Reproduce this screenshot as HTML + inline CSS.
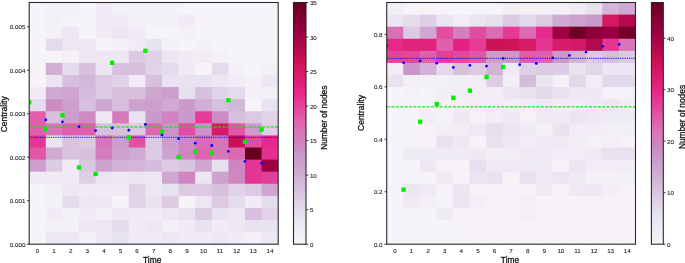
<!DOCTYPE html>
<html><head><meta charset="utf-8"><title>Centrality heatmaps</title>
<style>
html,body{margin:0;padding:0;background:#ffffff;}
body{width:685px;height:263px;overflow:hidden;font-family:"Liberation Sans",sans-serif;}
svg{display:block;position:absolute;left:0;top:0;will-change:transform;}
svg text{font-family:"Liberation Sans",sans-serif;}
</style></head><body>
<svg width="685" height="263" viewBox="0 0 685 263">
<rect x="0" y="0" width="685" height="263" fill="#ffffff"/>
<clipPath id="cl"><rect x="29.2" y="2.5" width="249.00" height="241.70"/></clipPath>
<g clip-path="url(#cl)">
<rect x="29.20" y="2.50" width="17.30" height="12.78" fill="#f7f4f9"/>
<rect x="45.80" y="2.50" width="17.30" height="12.78" fill="#f3f0f7"/>
<rect x="62.40" y="2.50" width="17.30" height="12.78" fill="#f3f0f7"/>
<rect x="79.00" y="2.50" width="17.30" height="12.78" fill="#f7f4f9"/>
<rect x="95.60" y="2.50" width="17.30" height="12.78" fill="#f0ebf4"/>
<rect x="112.20" y="2.50" width="17.30" height="12.78" fill="#f3f0f7"/>
<rect x="128.80" y="2.50" width="17.30" height="12.78" fill="#f3f0f7"/>
<rect x="145.40" y="2.50" width="17.30" height="12.78" fill="#f3f0f7"/>
<rect x="162.00" y="2.50" width="17.30" height="12.78" fill="#f3f0f7"/>
<rect x="178.60" y="2.50" width="17.30" height="12.78" fill="#f7f4f9"/>
<rect x="195.20" y="2.50" width="17.30" height="12.78" fill="#f7f4f9"/>
<rect x="211.80" y="2.50" width="17.30" height="12.78" fill="#f7f4f9"/>
<rect x="228.40" y="2.50" width="17.30" height="12.78" fill="#f7f4f9"/>
<rect x="245.00" y="2.50" width="17.30" height="12.78" fill="#f7f4f9"/>
<rect x="261.60" y="2.50" width="17.30" height="12.78" fill="#f7f4f9"/>
<rect x="29.20" y="14.58" width="17.30" height="12.78" fill="#f7f4f9"/>
<rect x="45.80" y="14.58" width="17.30" height="12.78" fill="#f3f0f7"/>
<rect x="62.40" y="14.58" width="17.30" height="12.78" fill="#f7f4f9"/>
<rect x="79.00" y="14.58" width="17.30" height="12.78" fill="#f7f4f9"/>
<rect x="95.60" y="14.58" width="17.30" height="12.78" fill="#f0ebf4"/>
<rect x="112.20" y="14.58" width="17.30" height="12.78" fill="#f0ebf4"/>
<rect x="128.80" y="14.58" width="17.30" height="12.78" fill="#f3f0f7"/>
<rect x="145.40" y="14.58" width="17.30" height="12.78" fill="#f3f0f7"/>
<rect x="162.00" y="14.58" width="17.30" height="12.78" fill="#f3f0f7"/>
<rect x="178.60" y="14.58" width="17.30" height="12.78" fill="#f0ebf4"/>
<rect x="195.20" y="14.58" width="17.30" height="12.78" fill="#f7f4f9"/>
<rect x="211.80" y="14.58" width="17.30" height="12.78" fill="#f7f4f9"/>
<rect x="228.40" y="14.58" width="17.30" height="12.78" fill="#f7f4f9"/>
<rect x="245.00" y="14.58" width="17.30" height="12.78" fill="#f7f4f9"/>
<rect x="261.60" y="14.58" width="17.30" height="12.78" fill="#f7f4f9"/>
<rect x="29.20" y="26.67" width="17.30" height="12.78" fill="#f7f4f9"/>
<rect x="45.80" y="26.67" width="17.30" height="12.78" fill="#f3f0f7"/>
<rect x="62.40" y="26.67" width="17.30" height="12.78" fill="#ece7f2"/>
<rect x="79.00" y="26.67" width="17.30" height="12.78" fill="#f7f4f9"/>
<rect x="95.60" y="26.67" width="17.30" height="12.78" fill="#f0ebf4"/>
<rect x="112.20" y="26.67" width="17.30" height="12.78" fill="#ece7f2"/>
<rect x="128.80" y="26.67" width="17.30" height="12.78" fill="#f0ebf4"/>
<rect x="145.40" y="26.67" width="17.30" height="12.78" fill="#f7f4f9"/>
<rect x="162.00" y="26.67" width="17.30" height="12.78" fill="#f7f4f9"/>
<rect x="178.60" y="26.67" width="17.30" height="12.78" fill="#f3f0f7"/>
<rect x="195.20" y="26.67" width="17.30" height="12.78" fill="#f7f4f9"/>
<rect x="211.80" y="26.67" width="17.30" height="12.78" fill="#f7f4f9"/>
<rect x="228.40" y="26.67" width="17.30" height="12.78" fill="#f7f4f9"/>
<rect x="245.00" y="26.67" width="17.30" height="12.78" fill="#f7f4f9"/>
<rect x="261.60" y="26.67" width="17.30" height="12.78" fill="#f7f4f9"/>
<rect x="29.20" y="38.75" width="17.30" height="12.78" fill="#f7f4f9"/>
<rect x="45.80" y="38.75" width="17.30" height="12.78" fill="#e4dbec"/>
<rect x="62.40" y="38.75" width="17.30" height="12.78" fill="#ece7f2"/>
<rect x="79.00" y="38.75" width="17.30" height="12.78" fill="#ece7f2"/>
<rect x="95.60" y="38.75" width="17.30" height="12.78" fill="#f7f4f9"/>
<rect x="112.20" y="38.75" width="17.30" height="12.78" fill="#f3f0f7"/>
<rect x="128.80" y="38.75" width="17.30" height="12.78" fill="#f0ebf4"/>
<rect x="145.40" y="38.75" width="17.30" height="12.78" fill="#e8e3f0"/>
<rect x="162.00" y="38.75" width="17.30" height="12.78" fill="#f3f0f7"/>
<rect x="178.60" y="38.75" width="17.30" height="12.78" fill="#f7f4f9"/>
<rect x="195.20" y="38.75" width="17.30" height="12.78" fill="#f3f0f7"/>
<rect x="211.80" y="38.75" width="17.30" height="12.78" fill="#f7f4f9"/>
<rect x="228.40" y="38.75" width="17.30" height="12.78" fill="#f7f4f9"/>
<rect x="245.00" y="38.75" width="17.30" height="12.78" fill="#f7f4f9"/>
<rect x="261.60" y="38.75" width="17.30" height="12.78" fill="#f7f4f9"/>
<rect x="29.20" y="50.84" width="17.30" height="12.78" fill="#f7f4f9"/>
<rect x="45.80" y="50.84" width="17.30" height="12.78" fill="#f7f4f9"/>
<rect x="62.40" y="50.84" width="17.30" height="12.78" fill="#f3f0f7"/>
<rect x="79.00" y="50.84" width="17.30" height="12.78" fill="#ece7f2"/>
<rect x="95.60" y="50.84" width="17.30" height="12.78" fill="#ece7f2"/>
<rect x="112.20" y="50.84" width="17.30" height="12.78" fill="#ece7f2"/>
<rect x="128.80" y="50.84" width="17.30" height="12.78" fill="#dcc9e2"/>
<rect x="145.40" y="50.84" width="17.30" height="12.78" fill="#e0d2e7"/>
<rect x="162.00" y="50.84" width="17.30" height="12.78" fill="#ece7f2"/>
<rect x="178.60" y="50.84" width="17.30" height="12.78" fill="#f0ebf4"/>
<rect x="195.20" y="50.84" width="17.30" height="12.78" fill="#f0ebf4"/>
<rect x="211.80" y="50.84" width="17.30" height="12.78" fill="#f3f0f7"/>
<rect x="228.40" y="50.84" width="17.30" height="12.78" fill="#f7f4f9"/>
<rect x="245.00" y="50.84" width="17.30" height="12.78" fill="#f7f4f9"/>
<rect x="261.60" y="50.84" width="17.30" height="12.78" fill="#f7f4f9"/>
<rect x="29.20" y="62.92" width="17.30" height="12.78" fill="#f7f4f9"/>
<rect x="45.80" y="62.92" width="17.30" height="12.78" fill="#d1aed5"/>
<rect x="62.40" y="62.92" width="17.30" height="12.78" fill="#e4dbec"/>
<rect x="79.00" y="62.92" width="17.30" height="12.78" fill="#d7c0de"/>
<rect x="95.60" y="62.92" width="17.30" height="12.78" fill="#eae5f1"/>
<rect x="112.20" y="62.92" width="17.30" height="12.78" fill="#d7c0de"/>
<rect x="128.80" y="62.92" width="17.30" height="12.78" fill="#d7c0de"/>
<rect x="145.40" y="62.92" width="17.30" height="12.78" fill="#e0d2e7"/>
<rect x="162.00" y="62.92" width="17.30" height="12.78" fill="#e4dbec"/>
<rect x="178.60" y="62.92" width="17.30" height="12.78" fill="#f0ebf4"/>
<rect x="195.20" y="62.92" width="17.30" height="12.78" fill="#f7f4f9"/>
<rect x="211.80" y="62.92" width="17.30" height="12.78" fill="#e4dbec"/>
<rect x="228.40" y="62.92" width="17.30" height="12.78" fill="#f3f0f7"/>
<rect x="245.00" y="62.92" width="17.30" height="12.78" fill="#f7f4f9"/>
<rect x="261.60" y="62.92" width="17.30" height="12.78" fill="#f3f0f7"/>
<rect x="29.20" y="75.01" width="17.30" height="12.78" fill="#f7f4f9"/>
<rect x="45.80" y="75.01" width="17.30" height="12.78" fill="#eae5f1"/>
<rect x="62.40" y="75.01" width="17.30" height="12.78" fill="#d7c0de"/>
<rect x="79.00" y="75.01" width="17.30" height="12.78" fill="#d3b7d9"/>
<rect x="95.60" y="75.01" width="17.30" height="12.78" fill="#dcc9e2"/>
<rect x="112.20" y="75.01" width="17.30" height="12.78" fill="#e0d2e7"/>
<rect x="128.80" y="75.01" width="17.30" height="12.78" fill="#f0ebf4"/>
<rect x="145.40" y="75.01" width="17.30" height="12.78" fill="#d7c0de"/>
<rect x="162.00" y="75.01" width="17.30" height="12.78" fill="#e8e3f0"/>
<rect x="178.60" y="75.01" width="17.30" height="12.78" fill="#e8e3f0"/>
<rect x="195.20" y="75.01" width="17.30" height="12.78" fill="#e8e3f0"/>
<rect x="211.80" y="75.01" width="17.30" height="12.78" fill="#ece7f2"/>
<rect x="228.40" y="75.01" width="17.30" height="12.78" fill="#f0ebf4"/>
<rect x="245.00" y="75.01" width="17.30" height="12.78" fill="#f3f0f7"/>
<rect x="261.60" y="75.01" width="17.30" height="12.78" fill="#ece7f2"/>
<rect x="29.20" y="87.09" width="17.30" height="12.78" fill="#f0ebf4"/>
<rect x="45.80" y="87.09" width="17.30" height="12.78" fill="#d0aad2"/>
<rect x="62.40" y="87.09" width="17.30" height="12.78" fill="#cea6d0"/>
<rect x="79.00" y="87.09" width="17.30" height="12.78" fill="#d6bcdc"/>
<rect x="95.60" y="87.09" width="17.30" height="12.78" fill="#dcc9e2"/>
<rect x="112.20" y="87.09" width="17.30" height="12.78" fill="#d7c0de"/>
<rect x="128.80" y="87.09" width="17.30" height="12.78" fill="#d7c0de"/>
<rect x="145.40" y="87.09" width="17.30" height="12.78" fill="#cea6d0"/>
<rect x="162.00" y="87.09" width="17.30" height="12.78" fill="#cc9ecc"/>
<rect x="178.60" y="87.09" width="17.30" height="12.78" fill="#e6e0ee"/>
<rect x="195.20" y="87.09" width="17.30" height="12.78" fill="#d7c0de"/>
<rect x="211.80" y="87.09" width="17.30" height="12.78" fill="#e0d2e7"/>
<rect x="228.40" y="87.09" width="17.30" height="12.78" fill="#e4dbec"/>
<rect x="245.00" y="87.09" width="17.30" height="12.78" fill="#f3f0f7"/>
<rect x="261.60" y="87.09" width="17.30" height="12.78" fill="#f3f0f7"/>
<rect x="29.20" y="99.18" width="17.30" height="12.78" fill="#e4dbec"/>
<rect x="45.80" y="99.18" width="17.30" height="12.78" fill="#cd8bc2"/>
<rect x="62.40" y="99.18" width="17.30" height="12.78" fill="#cc9ecc"/>
<rect x="79.00" y="99.18" width="17.30" height="12.78" fill="#d7c0de"/>
<rect x="95.60" y="99.18" width="17.30" height="12.78" fill="#cea6d0"/>
<rect x="112.20" y="99.18" width="17.30" height="12.78" fill="#d7c0de"/>
<rect x="128.80" y="99.18" width="17.30" height="12.78" fill="#cda2ce"/>
<rect x="145.40" y="99.18" width="17.30" height="12.78" fill="#cc9ecc"/>
<rect x="162.00" y="99.18" width="17.30" height="12.78" fill="#d0aad2"/>
<rect x="178.60" y="99.18" width="17.30" height="12.78" fill="#cb99ca"/>
<rect x="195.20" y="99.18" width="17.30" height="12.78" fill="#d1aed5"/>
<rect x="211.80" y="99.18" width="17.30" height="12.78" fill="#d7c0de"/>
<rect x="228.40" y="99.18" width="17.30" height="12.78" fill="#d3b7d9"/>
<rect x="245.00" y="99.18" width="17.30" height="12.78" fill="#f7f4f9"/>
<rect x="261.60" y="99.18" width="17.30" height="12.78" fill="#e8e3f0"/>
<rect x="29.20" y="111.26" width="17.30" height="12.78" fill="#e05eac"/>
<rect x="45.80" y="111.26" width="17.30" height="12.78" fill="#d7c0de"/>
<rect x="62.40" y="111.26" width="17.30" height="12.78" fill="#cc9ecc"/>
<rect x="79.00" y="111.26" width="17.30" height="12.78" fill="#cd8bc2"/>
<rect x="95.60" y="111.26" width="17.30" height="12.78" fill="#ece7f2"/>
<rect x="112.20" y="111.26" width="17.30" height="12.78" fill="#d57abb"/>
<rect x="128.80" y="111.26" width="17.30" height="12.78" fill="#e8e3f0"/>
<rect x="145.40" y="111.26" width="17.30" height="12.78" fill="#cb99ca"/>
<rect x="162.00" y="111.26" width="17.30" height="12.78" fill="#d085c0"/>
<rect x="178.60" y="111.26" width="17.30" height="12.78" fill="#cb99ca"/>
<rect x="195.20" y="111.26" width="17.30" height="12.78" fill="#e43c96"/>
<rect x="211.80" y="111.26" width="17.30" height="12.78" fill="#cd8bc2"/>
<rect x="228.40" y="111.26" width="17.30" height="12.78" fill="#d7c0de"/>
<rect x="245.00" y="111.26" width="17.30" height="12.78" fill="#dcc9e2"/>
<rect x="261.60" y="111.26" width="17.30" height="12.78" fill="#e0d2e7"/>
<rect x="29.20" y="123.35" width="17.30" height="12.78" fill="#e05eac"/>
<rect x="45.80" y="123.35" width="17.30" height="12.78" fill="#d775b8"/>
<rect x="62.40" y="123.35" width="17.30" height="12.78" fill="#e05eac"/>
<rect x="79.00" y="123.35" width="17.30" height="12.78" fill="#e05eac"/>
<rect x="95.60" y="123.35" width="17.30" height="12.78" fill="#d7c0de"/>
<rect x="112.20" y="123.35" width="17.30" height="12.78" fill="#d7c0de"/>
<rect x="128.80" y="123.35" width="17.30" height="12.78" fill="#dcc9e2"/>
<rect x="145.40" y="123.35" width="17.30" height="12.78" fill="#de67b1"/>
<rect x="162.00" y="123.35" width="17.30" height="12.78" fill="#c995c8"/>
<rect x="178.60" y="123.35" width="17.30" height="12.78" fill="#e24ca0"/>
<rect x="195.20" y="123.35" width="17.30" height="12.78" fill="#c995c8"/>
<rect x="211.80" y="123.35" width="17.30" height="12.78" fill="#d51965"/>
<rect x="228.40" y="123.35" width="17.30" height="12.78" fill="#e156a6"/>
<rect x="245.00" y="123.35" width="17.30" height="12.78" fill="#cb9ccb"/>
<rect x="261.60" y="123.35" width="17.30" height="12.78" fill="#dfcfe6"/>
<rect x="29.20" y="135.44" width="17.30" height="12.78" fill="#e53592"/>
<rect x="45.80" y="135.44" width="17.30" height="12.78" fill="#eae5f1"/>
<rect x="62.40" y="135.44" width="17.30" height="12.78" fill="#d9c3df"/>
<rect x="79.00" y="135.44" width="17.30" height="12.78" fill="#dcc9e2"/>
<rect x="95.60" y="135.44" width="17.30" height="12.78" fill="#d775b8"/>
<rect x="112.20" y="135.44" width="17.30" height="12.78" fill="#cc9ecc"/>
<rect x="128.80" y="135.44" width="17.30" height="12.78" fill="#e250a3"/>
<rect x="145.40" y="135.44" width="17.30" height="12.78" fill="#dccbe3"/>
<rect x="162.00" y="135.44" width="17.30" height="12.78" fill="#cc9ecc"/>
<rect x="178.60" y="135.44" width="17.30" height="12.78" fill="#cf87c1"/>
<rect x="195.20" y="135.44" width="17.30" height="12.78" fill="#dc6ab3"/>
<rect x="211.80" y="135.44" width="17.30" height="12.78" fill="#d775b8"/>
<rect x="228.40" y="135.44" width="17.30" height="12.78" fill="#cb1155"/>
<rect x="245.00" y="135.44" width="17.30" height="12.78" fill="#e24ca0"/>
<rect x="261.60" y="135.44" width="17.30" height="12.78" fill="#e62889"/>
<rect x="29.20" y="147.52" width="17.30" height="12.78" fill="#e157a7"/>
<rect x="45.80" y="147.52" width="17.30" height="12.78" fill="#d0aad2"/>
<rect x="62.40" y="147.52" width="17.30" height="12.78" fill="#d9c3df"/>
<rect x="79.00" y="147.52" width="17.30" height="12.78" fill="#d7c0de"/>
<rect x="95.60" y="147.52" width="17.30" height="12.78" fill="#d47cbb"/>
<rect x="112.20" y="147.52" width="17.30" height="12.78" fill="#cda2ce"/>
<rect x="128.80" y="147.52" width="17.30" height="12.78" fill="#d0aad2"/>
<rect x="145.40" y="147.52" width="17.30" height="12.78" fill="#dccbe3"/>
<rect x="162.00" y="147.52" width="17.30" height="12.78" fill="#cda2ce"/>
<rect x="178.60" y="147.52" width="17.30" height="12.78" fill="#cf86c0"/>
<rect x="195.20" y="147.52" width="17.30" height="12.78" fill="#df64af"/>
<rect x="211.80" y="147.52" width="17.30" height="12.78" fill="#d677b9"/>
<rect x="228.40" y="147.52" width="17.30" height="12.78" fill="#dd68b2"/>
<rect x="245.00" y="147.52" width="17.30" height="12.78" fill="#67001f"/>
<rect x="261.60" y="147.52" width="17.30" height="12.78" fill="#e6308e"/>
<rect x="29.20" y="159.60" width="17.30" height="12.78" fill="#cc9ecc"/>
<rect x="45.80" y="159.60" width="17.30" height="12.78" fill="#ddcde4"/>
<rect x="62.40" y="159.60" width="17.30" height="12.78" fill="#f0ebf4"/>
<rect x="79.00" y="159.60" width="17.30" height="12.78" fill="#dbc7e1"/>
<rect x="95.60" y="159.60" width="17.30" height="12.78" fill="#cda2ce"/>
<rect x="112.20" y="159.60" width="17.30" height="12.78" fill="#d2b3d7"/>
<rect x="128.80" y="159.60" width="17.30" height="12.78" fill="#d3b5d8"/>
<rect x="145.40" y="159.60" width="17.30" height="12.78" fill="#d6bcdc"/>
<rect x="162.00" y="159.60" width="17.30" height="12.78" fill="#dccbe3"/>
<rect x="178.60" y="159.60" width="17.30" height="12.78" fill="#d9c3df"/>
<rect x="195.20" y="159.60" width="17.30" height="12.78" fill="#cea6d0"/>
<rect x="211.80" y="159.60" width="17.30" height="12.78" fill="#e6dfee"/>
<rect x="228.40" y="159.60" width="17.30" height="12.78" fill="#cf86c0"/>
<rect x="245.00" y="159.60" width="17.30" height="12.78" fill="#e53592"/>
<rect x="261.60" y="159.60" width="17.30" height="12.78" fill="#9b0144"/>
<rect x="29.20" y="171.69" width="17.30" height="12.78" fill="#f0ebf4"/>
<rect x="45.80" y="171.69" width="17.30" height="12.78" fill="#f0ebf4"/>
<rect x="62.40" y="171.69" width="17.30" height="12.78" fill="#f0ebf4"/>
<rect x="79.00" y="171.69" width="17.30" height="12.78" fill="#dfcfe6"/>
<rect x="95.60" y="171.69" width="17.30" height="12.78" fill="#eae5f1"/>
<rect x="112.20" y="171.69" width="17.30" height="12.78" fill="#ece7f2"/>
<rect x="128.80" y="171.69" width="17.30" height="12.78" fill="#eae5f1"/>
<rect x="145.40" y="171.69" width="17.30" height="12.78" fill="#ece7f2"/>
<rect x="162.00" y="171.69" width="17.30" height="12.78" fill="#cea6d0"/>
<rect x="178.60" y="171.69" width="17.30" height="12.78" fill="#d085c0"/>
<rect x="195.20" y="171.69" width="17.30" height="12.78" fill="#ece7f2"/>
<rect x="211.80" y="171.69" width="17.30" height="12.78" fill="#cda2ce"/>
<rect x="228.40" y="171.69" width="17.30" height="12.78" fill="#cf87c1"/>
<rect x="245.00" y="171.69" width="17.30" height="12.78" fill="#e53592"/>
<rect x="261.60" y="171.69" width="17.30" height="12.78" fill="#e43f98"/>
<rect x="29.20" y="183.77" width="17.30" height="12.78" fill="#f7f4f9"/>
<rect x="45.80" y="183.77" width="17.30" height="12.78" fill="#f3f0f7"/>
<rect x="62.40" y="183.77" width="17.30" height="12.78" fill="#ece7f2"/>
<rect x="79.00" y="183.77" width="17.30" height="12.78" fill="#f0ebf4"/>
<rect x="95.60" y="183.77" width="17.30" height="12.78" fill="#f0ebf4"/>
<rect x="112.20" y="183.77" width="17.30" height="12.78" fill="#f0ebf4"/>
<rect x="128.80" y="183.77" width="17.30" height="12.78" fill="#e0d2e7"/>
<rect x="145.40" y="183.77" width="17.30" height="12.78" fill="#ece7f2"/>
<rect x="162.00" y="183.77" width="17.30" height="12.78" fill="#e8e3f0"/>
<rect x="178.60" y="183.77" width="17.30" height="12.78" fill="#dcc9e2"/>
<rect x="195.20" y="183.77" width="17.30" height="12.78" fill="#dcc9e2"/>
<rect x="211.80" y="183.77" width="17.30" height="12.78" fill="#d7c0de"/>
<rect x="228.40" y="183.77" width="17.30" height="12.78" fill="#e0d2e7"/>
<rect x="245.00" y="183.77" width="17.30" height="12.78" fill="#dcc9e2"/>
<rect x="261.60" y="183.77" width="17.30" height="12.78" fill="#cea6d0"/>
<rect x="29.20" y="195.86" width="17.30" height="12.78" fill="#f7f4f9"/>
<rect x="45.80" y="195.86" width="17.30" height="12.78" fill="#f3f0f7"/>
<rect x="62.40" y="195.86" width="17.30" height="12.78" fill="#e4dbec"/>
<rect x="79.00" y="195.86" width="17.30" height="12.78" fill="#ece7f2"/>
<rect x="95.60" y="195.86" width="17.30" height="12.78" fill="#ece7f2"/>
<rect x="112.20" y="195.86" width="17.30" height="12.78" fill="#f7f4f9"/>
<rect x="128.80" y="195.86" width="17.30" height="12.78" fill="#e0d2e7"/>
<rect x="145.40" y="195.86" width="17.30" height="12.78" fill="#e8e3f0"/>
<rect x="162.00" y="195.86" width="17.30" height="12.78" fill="#dcc9e2"/>
<rect x="178.60" y="195.86" width="17.30" height="12.78" fill="#f7f4f9"/>
<rect x="195.20" y="195.86" width="17.30" height="12.78" fill="#ece7f2"/>
<rect x="211.80" y="195.86" width="17.30" height="12.78" fill="#dcc9e2"/>
<rect x="228.40" y="195.86" width="17.30" height="12.78" fill="#e4dbec"/>
<rect x="245.00" y="195.86" width="17.30" height="12.78" fill="#f0ebf4"/>
<rect x="261.60" y="195.86" width="17.30" height="12.78" fill="#e4dbec"/>
<rect x="29.20" y="207.94" width="17.30" height="12.78" fill="#f7f4f9"/>
<rect x="45.80" y="207.94" width="17.30" height="12.78" fill="#f0ebf4"/>
<rect x="62.40" y="207.94" width="17.30" height="12.78" fill="#f3f0f7"/>
<rect x="79.00" y="207.94" width="17.30" height="12.78" fill="#f0ebf4"/>
<rect x="95.60" y="207.94" width="17.30" height="12.78" fill="#f3f0f7"/>
<rect x="112.20" y="207.94" width="17.30" height="12.78" fill="#ece7f2"/>
<rect x="128.80" y="207.94" width="17.30" height="12.78" fill="#f0ebf4"/>
<rect x="145.40" y="207.94" width="17.30" height="12.78" fill="#f0ebf4"/>
<rect x="162.00" y="207.94" width="17.30" height="12.78" fill="#ece7f2"/>
<rect x="178.60" y="207.94" width="17.30" height="12.78" fill="#e8e3f0"/>
<rect x="195.20" y="207.94" width="17.30" height="12.78" fill="#dcc9e2"/>
<rect x="211.80" y="207.94" width="17.30" height="12.78" fill="#e8e3f0"/>
<rect x="228.40" y="207.94" width="17.30" height="12.78" fill="#ece7f2"/>
<rect x="245.00" y="207.94" width="17.30" height="12.78" fill="#d7c0de"/>
<rect x="261.60" y="207.94" width="17.30" height="12.78" fill="#e0d2e7"/>
<rect x="29.20" y="220.03" width="17.30" height="12.78" fill="#f7f4f9"/>
<rect x="45.80" y="220.03" width="17.30" height="12.78" fill="#f3f0f7"/>
<rect x="62.40" y="220.03" width="17.30" height="12.78" fill="#f3f0f7"/>
<rect x="79.00" y="220.03" width="17.30" height="12.78" fill="#ece7f2"/>
<rect x="95.60" y="220.03" width="17.30" height="12.78" fill="#ece7f2"/>
<rect x="112.20" y="220.03" width="17.30" height="12.78" fill="#e4dbec"/>
<rect x="128.80" y="220.03" width="17.30" height="12.78" fill="#f0ebf4"/>
<rect x="145.40" y="220.03" width="17.30" height="12.78" fill="#ece7f2"/>
<rect x="162.00" y="220.03" width="17.30" height="12.78" fill="#f3f0f7"/>
<rect x="178.60" y="220.03" width="17.30" height="12.78" fill="#f0ebf4"/>
<rect x="195.20" y="220.03" width="17.30" height="12.78" fill="#e8e3f0"/>
<rect x="211.80" y="220.03" width="17.30" height="12.78" fill="#f0ebf4"/>
<rect x="228.40" y="220.03" width="17.30" height="12.78" fill="#ece7f2"/>
<rect x="245.00" y="220.03" width="17.30" height="12.78" fill="#e8e3f0"/>
<rect x="261.60" y="220.03" width="17.30" height="12.78" fill="#e8e3f0"/>
<rect x="29.20" y="232.11" width="17.30" height="12.78" fill="#f7f4f9"/>
<rect x="45.80" y="232.11" width="17.30" height="12.78" fill="#ece7f2"/>
<rect x="62.40" y="232.11" width="17.30" height="12.78" fill="#ece7f2"/>
<rect x="79.00" y="232.11" width="17.30" height="12.78" fill="#f3f0f7"/>
<rect x="95.60" y="232.11" width="17.30" height="12.78" fill="#ece7f2"/>
<rect x="112.20" y="232.11" width="17.30" height="12.78" fill="#e8e3f0"/>
<rect x="128.80" y="232.11" width="17.30" height="12.78" fill="#f0ebf4"/>
<rect x="145.40" y="232.11" width="17.30" height="12.78" fill="#f0ebf4"/>
<rect x="162.00" y="232.11" width="17.30" height="12.78" fill="#ece7f2"/>
<rect x="178.60" y="232.11" width="17.30" height="12.78" fill="#f0ebf4"/>
<rect x="195.20" y="232.11" width="17.30" height="12.78" fill="#f0ebf4"/>
<rect x="211.80" y="232.11" width="17.30" height="12.78" fill="#ece7f2"/>
<rect x="228.40" y="232.11" width="17.30" height="12.78" fill="#f0ebf4"/>
<rect x="245.00" y="232.11" width="17.30" height="12.78" fill="#f3f0f7"/>
<rect x="261.60" y="232.11" width="17.30" height="12.78" fill="#ece7f2"/>
</g>
<g clip-path="url(#cl)">
<line x1="29.2" x2="278.2" y1="127.0" y2="127.0" stroke="#00ee00" stroke-opacity="0.78" stroke-width="1.4" stroke-dasharray="3.05 1.34"/>
<line x1="29.2" x2="278.2" y1="137.3" y2="137.3" stroke="#0000ff" stroke-opacity="0.85" stroke-width="1.25" stroke-dasharray="0.9 0.92"/>
<rect x="27.05" y="100.05" width="4.3" height="4.3" fill="#00ee00"/>
<rect x="43.65" y="126.95" width="4.3" height="4.3" fill="#00ee00"/>
<rect x="60.25" y="113.05" width="4.3" height="4.3" fill="#00ee00"/>
<rect x="76.85" y="165.25" width="4.3" height="4.3" fill="#00ee00"/>
<rect x="93.45" y="171.75" width="4.3" height="4.3" fill="#00ee00"/>
<rect x="110.05" y="60.65" width="4.3" height="4.3" fill="#00ee00"/>
<rect x="126.65" y="135.25" width="4.3" height="4.3" fill="#00ee00"/>
<rect x="143.25" y="48.60" width="4.3" height="4.3" fill="#00ee00"/>
<rect x="159.85" y="129.35" width="4.3" height="4.3" fill="#00ee00"/>
<rect x="176.45" y="154.95" width="4.3" height="4.3" fill="#00ee00"/>
<rect x="193.05" y="149.45" width="4.3" height="4.3" fill="#00ee00"/>
<rect x="209.65" y="150.75" width="4.3" height="4.3" fill="#00ee00"/>
<rect x="226.25" y="98.05" width="4.3" height="4.3" fill="#00ee00"/>
<rect x="242.85" y="139.75" width="4.3" height="4.3" fill="#00ee00"/>
<rect x="259.45" y="127.45" width="4.3" height="4.3" fill="#00ee00"/>
<circle cx="45.80" cy="119.90" r="1.38" fill="#0000ff"/>
<circle cx="62.40" cy="121.80" r="1.38" fill="#0000ff"/>
<circle cx="79.00" cy="126.70" r="1.38" fill="#0000ff"/>
<circle cx="95.60" cy="130.60" r="1.38" fill="#0000ff"/>
<circle cx="112.20" cy="128.00" r="1.38" fill="#0000ff"/>
<circle cx="128.80" cy="130.25" r="1.38" fill="#0000ff"/>
<circle cx="145.40" cy="124.40" r="1.38" fill="#0000ff"/>
<circle cx="162.00" cy="135.10" r="1.38" fill="#0000ff"/>
<circle cx="178.60" cy="138.70" r="1.38" fill="#0000ff"/>
<circle cx="195.20" cy="143.20" r="1.38" fill="#0000ff"/>
<circle cx="211.80" cy="145.50" r="1.38" fill="#0000ff"/>
<circle cx="228.40" cy="151.30" r="1.38" fill="#0000ff"/>
<circle cx="245.00" cy="161.30" r="1.38" fill="#0000ff"/>
<circle cx="261.60" cy="163.20" r="1.38" fill="#0000ff"/>
</g>
<rect x="29.2" y="2.5" width="249.00" height="241.70" fill="none" stroke="#2a2a2a" stroke-width="1.1"/>
<text x="37.5" y="252.9" font-size="6.25" text-anchor="middle" fill="#141414" stroke="#141414" stroke-width="0.08">0</text>
<text x="54.1" y="252.9" font-size="6.25" text-anchor="middle" fill="#141414" stroke="#141414" stroke-width="0.08">1</text>
<text x="70.7" y="252.9" font-size="6.25" text-anchor="middle" fill="#141414" stroke="#141414" stroke-width="0.08">2</text>
<text x="87.3" y="252.9" font-size="6.25" text-anchor="middle" fill="#141414" stroke="#141414" stroke-width="0.08">3</text>
<text x="103.9" y="252.9" font-size="6.25" text-anchor="middle" fill="#141414" stroke="#141414" stroke-width="0.08">4</text>
<text x="120.5" y="252.9" font-size="6.25" text-anchor="middle" fill="#141414" stroke="#141414" stroke-width="0.08">5</text>
<text x="137.1" y="252.9" font-size="6.25" text-anchor="middle" fill="#141414" stroke="#141414" stroke-width="0.08">6</text>
<text x="153.7" y="252.9" font-size="6.25" text-anchor="middle" fill="#141414" stroke="#141414" stroke-width="0.08">7</text>
<text x="170.3" y="252.9" font-size="6.25" text-anchor="middle" fill="#141414" stroke="#141414" stroke-width="0.08">8</text>
<text x="186.9" y="252.9" font-size="6.25" text-anchor="middle" fill="#141414" stroke="#141414" stroke-width="0.08">9</text>
<text x="203.5" y="252.9" font-size="6.25" text-anchor="middle" fill="#141414" stroke="#141414" stroke-width="0.08">10</text>
<text x="220.1" y="252.9" font-size="6.25" text-anchor="middle" fill="#141414" stroke="#141414" stroke-width="0.08">11</text>
<text x="236.7" y="252.9" font-size="6.25" text-anchor="middle" fill="#141414" stroke="#141414" stroke-width="0.08">12</text>
<text x="253.3" y="252.9" font-size="6.25" text-anchor="middle" fill="#141414" stroke="#141414" stroke-width="0.08">13</text>
<text x="269.9" y="252.9" font-size="6.25" text-anchor="middle" fill="#141414" stroke="#141414" stroke-width="0.08">14</text>
<line x1="27.0" x2="29.2" y1="244.20" y2="244.20" stroke="#222" stroke-width="0.9"/>
<text x="25.4" y="246.8" font-size="6.25" text-anchor="end" fill="#141414" stroke="#141414" stroke-width="0.08">0.000</text>
<line x1="27.0" x2="29.2" y1="200.70" y2="200.70" stroke="#222" stroke-width="0.9"/>
<text x="25.4" y="203.3" font-size="6.25" text-anchor="end" fill="#141414" stroke="#141414" stroke-width="0.08">0.001</text>
<line x1="27.0" x2="29.2" y1="157.20" y2="157.20" stroke="#222" stroke-width="0.9"/>
<text x="25.4" y="159.8" font-size="6.25" text-anchor="end" fill="#141414" stroke="#141414" stroke-width="0.08">0.002</text>
<line x1="27.0" x2="29.2" y1="113.70" y2="113.70" stroke="#222" stroke-width="0.9"/>
<text x="25.4" y="116.3" font-size="6.25" text-anchor="end" fill="#141414" stroke="#141414" stroke-width="0.08">0.003</text>
<line x1="27.0" x2="29.2" y1="70.20" y2="70.20" stroke="#222" stroke-width="0.9"/>
<text x="25.4" y="72.8" font-size="6.25" text-anchor="end" fill="#141414" stroke="#141414" stroke-width="0.08">0.004</text>
<line x1="27.0" x2="29.2" y1="26.70" y2="26.70" stroke="#222" stroke-width="0.9"/>
<text x="25.4" y="29.3" font-size="6.25" text-anchor="end" fill="#141414" stroke="#141414" stroke-width="0.08">0.005</text>
<text x="152.2" y="263.4" font-size="8.3" text-anchor="middle" fill="#141414" stroke="#141414" stroke-width="0.3" textLength="18.3" lengthAdjust="spacingAndGlyphs">Time</text>
<text x="6.9" y="114.3" font-size="8.3" text-anchor="middle" fill="#141414" stroke="#141414" stroke-width="0.3" transform="rotate(-90 6.9 114.3)" textLength="36.0" lengthAdjust="spacingAndGlyphs">Centrality</text>
<linearGradient id="gl" x1="0" y1="0" x2="0" y2="1"><stop offset="0.0000" stop-color="#67001f"/><stop offset="0.0312" stop-color="#730028"/><stop offset="0.0625" stop-color="#800031"/><stop offset="0.0938" stop-color="#8c003a"/><stop offset="0.1250" stop-color="#980043"/><stop offset="0.1562" stop-color="#a60448"/><stop offset="0.1875" stop-color="#b3094c"/><stop offset="0.2188" stop-color="#c00e51"/><stop offset="0.2500" stop-color="#ce1256"/><stop offset="0.2812" stop-color="#d41863"/><stop offset="0.3125" stop-color="#da1e70"/><stop offset="0.3438" stop-color="#e1237d"/><stop offset="0.3750" stop-color="#e7298a"/><stop offset="0.4062" stop-color="#e53894"/><stop offset="0.4375" stop-color="#e3479d"/><stop offset="0.4688" stop-color="#e156a6"/><stop offset="0.5000" stop-color="#df65b0"/><stop offset="0.5312" stop-color="#da71b6"/><stop offset="0.5625" stop-color="#d47cbc"/><stop offset="0.5938" stop-color="#ce88c1"/><stop offset="0.6250" stop-color="#c994c7"/><stop offset="0.6562" stop-color="#cc9dcc"/><stop offset="0.6875" stop-color="#cea6d0"/><stop offset="0.7188" stop-color="#d1b0d5"/><stop offset="0.7500" stop-color="#d4b9da"/><stop offset="0.7812" stop-color="#d9c3df"/><stop offset="0.8125" stop-color="#decde4"/><stop offset="0.8438" stop-color="#e2d7ea"/><stop offset="0.8750" stop-color="#e7e1ef"/><stop offset="0.9062" stop-color="#ebe6f2"/><stop offset="0.9375" stop-color="#efeaf4"/><stop offset="0.9688" stop-color="#f3eff6"/><stop offset="1.0000" stop-color="#f7f4f9"/></linearGradient>
<rect x="293.5" y="2.5" width="12.50" height="241.70" fill="url(#gl)" stroke="#222" stroke-width="1.05"/>
<line x1="306.0" x2="308.2" y1="244.20" y2="244.20" stroke="#222" stroke-width="0.9"/>
<text x="309.9" y="246.9" font-size="6.25" text-anchor="start" fill="#141414" stroke="#141414" stroke-width="0.08">0</text>
<line x1="306.0" x2="308.2" y1="209.67" y2="209.67" stroke="#222" stroke-width="0.9"/>
<text x="309.9" y="212.37" font-size="6.25" text-anchor="start" fill="#141414" stroke="#141414" stroke-width="0.08">5</text>
<line x1="306.0" x2="308.2" y1="175.14" y2="175.14" stroke="#222" stroke-width="0.9"/>
<text x="309.9" y="177.84" font-size="6.25" text-anchor="start" fill="#141414" stroke="#141414" stroke-width="0.08">10</text>
<line x1="306.0" x2="308.2" y1="140.61" y2="140.61" stroke="#222" stroke-width="0.9"/>
<text x="309.9" y="143.31" font-size="6.25" text-anchor="start" fill="#141414" stroke="#141414" stroke-width="0.08">15</text>
<line x1="306.0" x2="308.2" y1="106.09" y2="106.09" stroke="#222" stroke-width="0.9"/>
<text x="309.9" y="108.79" font-size="6.25" text-anchor="start" fill="#141414" stroke="#141414" stroke-width="0.08">20</text>
<line x1="306.0" x2="308.2" y1="71.56" y2="71.56" stroke="#222" stroke-width="0.9"/>
<text x="309.9" y="74.26" font-size="6.25" text-anchor="start" fill="#141414" stroke="#141414" stroke-width="0.08">25</text>
<line x1="306.0" x2="308.2" y1="37.03" y2="37.03" stroke="#222" stroke-width="0.9"/>
<text x="309.9" y="39.73" font-size="6.25" text-anchor="start" fill="#141414" stroke="#141414" stroke-width="0.08">30</text>
<line x1="306.0" x2="308.2" y1="2.50" y2="2.50" stroke="#222" stroke-width="0.9"/>
<text x="309.9" y="5.2" font-size="6.25" text-anchor="start" fill="#141414" stroke="#141414" stroke-width="0.08">35</text>
<text x="327.3" y="117.7" font-size="8.3" text-anchor="middle" fill="#141414" stroke="#141414" stroke-width="0.3" transform="rotate(-90 327.3 117.7)" textLength="64.2" lengthAdjust="spacingAndGlyphs">Number of nodes</text>
<clipPath id="cr"><rect x="386.7" y="2.5" width="248.80" height="241.70"/></clipPath>
<g clip-path="url(#cr)">
<rect x="386.70" y="2.50" width="17.29" height="12.78" fill="#f3eff7"/>
<rect x="403.29" y="2.50" width="17.29" height="12.78" fill="#f7f4f9"/>
<rect x="419.87" y="2.50" width="17.29" height="12.78" fill="#f7f4f9"/>
<rect x="436.46" y="2.50" width="17.29" height="12.78" fill="#f7f4f9"/>
<rect x="453.05" y="2.50" width="17.29" height="12.78" fill="#f7f4f9"/>
<rect x="469.63" y="2.50" width="17.29" height="12.78" fill="#f7f4f9"/>
<rect x="486.22" y="2.50" width="17.29" height="12.78" fill="#f7f4f9"/>
<rect x="502.81" y="2.50" width="17.29" height="12.78" fill="#f2eef6"/>
<rect x="519.39" y="2.50" width="17.29" height="12.78" fill="#f4f1f7"/>
<rect x="535.98" y="2.50" width="17.29" height="12.78" fill="#f4f1f7"/>
<rect x="552.57" y="2.50" width="17.29" height="12.78" fill="#f3eff7"/>
<rect x="569.15" y="2.50" width="17.29" height="12.78" fill="#efebf4"/>
<rect x="585.74" y="2.50" width="17.29" height="12.78" fill="#e8e2ef"/>
<rect x="602.33" y="2.50" width="17.29" height="12.78" fill="#d3b6d8"/>
<rect x="618.91" y="2.50" width="17.29" height="12.78" fill="#cfa7d1"/>
<rect x="386.70" y="14.58" width="17.29" height="12.78" fill="#ebe6f2"/>
<rect x="403.29" y="14.58" width="17.29" height="12.78" fill="#e5dcec"/>
<rect x="419.87" y="14.58" width="17.29" height="12.78" fill="#dfcfe6"/>
<rect x="436.46" y="14.58" width="17.29" height="12.78" fill="#eae5f1"/>
<rect x="453.05" y="14.58" width="17.29" height="12.78" fill="#f1ecf5"/>
<rect x="469.63" y="14.58" width="17.29" height="12.78" fill="#eae5f1"/>
<rect x="486.22" y="14.58" width="17.29" height="12.78" fill="#e6dfee"/>
<rect x="502.81" y="14.58" width="17.29" height="12.78" fill="#dcc9e2"/>
<rect x="519.39" y="14.58" width="17.29" height="12.78" fill="#e3d9eb"/>
<rect x="535.98" y="14.58" width="17.29" height="12.78" fill="#dcc9e2"/>
<rect x="552.57" y="14.58" width="17.29" height="12.78" fill="#d0aad2"/>
<rect x="569.15" y="14.58" width="17.29" height="12.78" fill="#cda1ce"/>
<rect x="585.74" y="14.58" width="17.29" height="12.78" fill="#ca98c9"/>
<rect x="602.33" y="14.58" width="17.29" height="12.78" fill="#d41862"/>
<rect x="618.91" y="14.58" width="17.29" height="12.78" fill="#b4094d"/>
<rect x="386.70" y="26.67" width="17.29" height="12.78" fill="#da70b6"/>
<rect x="403.29" y="26.67" width="17.29" height="12.78" fill="#dcc9e2"/>
<rect x="419.87" y="26.67" width="17.29" height="12.78" fill="#cfa7d1"/>
<rect x="436.46" y="26.67" width="17.29" height="12.78" fill="#e24da1"/>
<rect x="453.05" y="26.67" width="17.29" height="12.78" fill="#d37fbd"/>
<rect x="469.63" y="26.67" width="17.29" height="12.78" fill="#e24da1"/>
<rect x="486.22" y="26.67" width="17.29" height="12.78" fill="#db6db4"/>
<rect x="502.81" y="26.67" width="17.29" height="12.78" fill="#e53a95"/>
<rect x="519.39" y="26.67" width="17.29" height="12.78" fill="#db6db4"/>
<rect x="535.98" y="26.67" width="17.29" height="12.78" fill="#e72b8c"/>
<rect x="552.57" y="26.67" width="17.29" height="12.78" fill="#9e0245"/>
<rect x="569.15" y="26.67" width="17.29" height="12.78" fill="#6f0025"/>
<rect x="585.74" y="26.67" width="17.29" height="12.78" fill="#8e003c"/>
<rect x="602.33" y="26.67" width="17.29" height="12.78" fill="#980043"/>
<rect x="618.91" y="26.67" width="17.29" height="12.78" fill="#730028"/>
<rect x="386.70" y="38.75" width="17.29" height="12.78" fill="#e62888"/>
<rect x="403.29" y="38.75" width="17.29" height="12.78" fill="#e0237b"/>
<rect x="419.87" y="38.75" width="17.29" height="12.78" fill="#e0237b"/>
<rect x="436.46" y="38.75" width="17.29" height="12.78" fill="#e060ad"/>
<rect x="453.05" y="38.75" width="17.29" height="12.78" fill="#e22480"/>
<rect x="469.63" y="38.75" width="17.29" height="12.78" fill="#e53a95"/>
<rect x="486.22" y="38.75" width="17.29" height="12.78" fill="#ca1154"/>
<rect x="502.81" y="38.75" width="17.29" height="12.78" fill="#d0145a"/>
<rect x="519.39" y="38.75" width="17.29" height="12.78" fill="#d81b6b"/>
<rect x="535.98" y="38.75" width="17.29" height="12.78" fill="#e53592"/>
<rect x="552.57" y="38.75" width="17.29" height="12.78" fill="#d81b6b"/>
<rect x="569.15" y="38.75" width="17.29" height="12.78" fill="#d61967"/>
<rect x="585.74" y="38.75" width="17.29" height="12.78" fill="#b4094d"/>
<rect x="602.33" y="38.75" width="17.29" height="12.78" fill="#e53592"/>
<rect x="618.91" y="38.75" width="17.29" height="12.78" fill="#d874b7"/>
<rect x="386.70" y="50.84" width="17.29" height="12.78" fill="#e3439b"/>
<rect x="403.29" y="50.84" width="17.29" height="12.78" fill="#e3489e"/>
<rect x="419.87" y="50.84" width="17.29" height="12.78" fill="#e060ad"/>
<rect x="436.46" y="50.84" width="17.29" height="12.78" fill="#e43f98"/>
<rect x="453.05" y="50.84" width="17.29" height="12.78" fill="#e3489e"/>
<rect x="469.63" y="50.84" width="17.29" height="12.78" fill="#e157a7"/>
<rect x="486.22" y="50.84" width="17.29" height="12.78" fill="#cc9ecc"/>
<rect x="502.81" y="50.84" width="17.29" height="12.78" fill="#ca98c9"/>
<rect x="519.39" y="50.84" width="17.29" height="12.78" fill="#e05baa"/>
<rect x="535.98" y="50.84" width="17.29" height="12.78" fill="#e060ad"/>
<rect x="552.57" y="50.84" width="17.29" height="12.78" fill="#ca98c9"/>
<rect x="569.15" y="50.84" width="17.29" height="12.78" fill="#d2b3d7"/>
<rect x="585.74" y="50.84" width="17.29" height="12.78" fill="#dcc9e2"/>
<rect x="602.33" y="50.84" width="17.29" height="12.78" fill="#d7bfdd"/>
<rect x="618.91" y="50.84" width="17.29" height="12.78" fill="#dcc9e2"/>
<rect x="386.70" y="62.92" width="17.29" height="12.78" fill="#f1ecf5"/>
<rect x="403.29" y="62.92" width="17.29" height="12.78" fill="#c995c8"/>
<rect x="419.87" y="62.92" width="17.29" height="12.78" fill="#d2b3d7"/>
<rect x="436.46" y="62.92" width="17.29" height="12.78" fill="#e3d9eb"/>
<rect x="453.05" y="62.92" width="17.29" height="12.78" fill="#d7bfdd"/>
<rect x="469.63" y="62.92" width="17.29" height="12.78" fill="#dcc9e2"/>
<rect x="486.22" y="62.92" width="17.29" height="12.78" fill="#d2b3d7"/>
<rect x="502.81" y="62.92" width="17.29" height="12.78" fill="#ede8f3"/>
<rect x="519.39" y="62.92" width="17.29" height="12.78" fill="#dfcfe6"/>
<rect x="535.98" y="62.92" width="17.29" height="12.78" fill="#dcc9e2"/>
<rect x="552.57" y="62.92" width="17.29" height="12.78" fill="#ddcce4"/>
<rect x="569.15" y="62.92" width="17.29" height="12.78" fill="#e9e3f0"/>
<rect x="585.74" y="62.92" width="17.29" height="12.78" fill="#e2d6e9"/>
<rect x="602.33" y="62.92" width="17.29" height="12.78" fill="#ebe6f2"/>
<rect x="618.91" y="62.92" width="17.29" height="12.78" fill="#ebe6f2"/>
<rect x="386.70" y="75.01" width="17.29" height="12.78" fill="#e9e3f0"/>
<rect x="403.29" y="75.01" width="17.29" height="12.78" fill="#f3eff7"/>
<rect x="419.87" y="75.01" width="17.29" height="12.78" fill="#f3eff7"/>
<rect x="436.46" y="75.01" width="17.29" height="12.78" fill="#f3eff7"/>
<rect x="453.05" y="75.01" width="17.29" height="12.78" fill="#f2eef6"/>
<rect x="469.63" y="75.01" width="17.29" height="12.78" fill="#f1ecf5"/>
<rect x="486.22" y="75.01" width="17.29" height="12.78" fill="#ddcce4"/>
<rect x="502.81" y="75.01" width="17.29" height="12.78" fill="#f3eff7"/>
<rect x="519.39" y="75.01" width="17.29" height="12.78" fill="#d6bcdc"/>
<rect x="535.98" y="75.01" width="17.29" height="12.78" fill="#e9e3f0"/>
<rect x="552.57" y="75.01" width="17.29" height="12.78" fill="#f4f1f7"/>
<rect x="569.15" y="75.01" width="17.29" height="12.78" fill="#e3d9eb"/>
<rect x="585.74" y="75.01" width="17.29" height="12.78" fill="#f1ecf5"/>
<rect x="602.33" y="75.01" width="17.29" height="12.78" fill="#e3d9eb"/>
<rect x="618.91" y="75.01" width="17.29" height="12.78" fill="#e3d9eb"/>
<rect x="386.70" y="87.09" width="17.29" height="12.78" fill="#f7f4f9"/>
<rect x="403.29" y="87.09" width="17.29" height="12.78" fill="#f4f1f7"/>
<rect x="419.87" y="87.09" width="17.29" height="12.78" fill="#f7f4f9"/>
<rect x="436.46" y="87.09" width="17.29" height="12.78" fill="#f2eef6"/>
<rect x="453.05" y="87.09" width="17.29" height="12.78" fill="#f2eef6"/>
<rect x="469.63" y="87.09" width="17.29" height="12.78" fill="#f1ecf5"/>
<rect x="486.22" y="87.09" width="17.29" height="12.78" fill="#f2eef6"/>
<rect x="502.81" y="87.09" width="17.29" height="12.78" fill="#eae5f1"/>
<rect x="519.39" y="87.09" width="17.29" height="12.78" fill="#e9e3f0"/>
<rect x="535.98" y="87.09" width="17.29" height="12.78" fill="#e3d9eb"/>
<rect x="552.57" y="87.09" width="17.29" height="12.78" fill="#e9e3f0"/>
<rect x="569.15" y="87.09" width="17.29" height="12.78" fill="#ede8f3"/>
<rect x="585.74" y="87.09" width="17.29" height="12.78" fill="#ede8f3"/>
<rect x="602.33" y="87.09" width="17.29" height="12.78" fill="#f4f1f7"/>
<rect x="618.91" y="87.09" width="17.29" height="12.78" fill="#f4f1f7"/>
<rect x="386.70" y="99.18" width="17.29" height="12.78" fill="#f7f4f9"/>
<rect x="403.29" y="99.18" width="17.29" height="12.78" fill="#f7f4f9"/>
<rect x="419.87" y="99.18" width="17.29" height="12.78" fill="#f7f4f9"/>
<rect x="436.46" y="99.18" width="17.29" height="12.78" fill="#f4f1f7"/>
<rect x="453.05" y="99.18" width="17.29" height="12.78" fill="#f3eff7"/>
<rect x="469.63" y="99.18" width="17.29" height="12.78" fill="#f1ecf5"/>
<rect x="486.22" y="99.18" width="17.29" height="12.78" fill="#f1ecf5"/>
<rect x="502.81" y="99.18" width="17.29" height="12.78" fill="#f1ecf5"/>
<rect x="519.39" y="99.18" width="17.29" height="12.78" fill="#f1ecf5"/>
<rect x="535.98" y="99.18" width="17.29" height="12.78" fill="#ede8f3"/>
<rect x="552.57" y="99.18" width="17.29" height="12.78" fill="#f1ecf5"/>
<rect x="569.15" y="99.18" width="17.29" height="12.78" fill="#f2eef6"/>
<rect x="585.74" y="99.18" width="17.29" height="12.78" fill="#eee9f3"/>
<rect x="602.33" y="99.18" width="17.29" height="12.78" fill="#ebe6f2"/>
<rect x="618.91" y="99.18" width="17.29" height="12.78" fill="#f1ecf5"/>
<rect x="386.70" y="111.26" width="17.29" height="12.78" fill="#f7f4f9"/>
<rect x="403.29" y="111.26" width="17.29" height="12.78" fill="#f7f4f9"/>
<rect x="419.87" y="111.26" width="17.29" height="12.78" fill="#f2eef6"/>
<rect x="436.46" y="111.26" width="17.29" height="12.78" fill="#f4f1f7"/>
<rect x="453.05" y="111.26" width="17.29" height="12.78" fill="#ede8f3"/>
<rect x="469.63" y="111.26" width="17.29" height="12.78" fill="#f6f2f8"/>
<rect x="486.22" y="111.26" width="17.29" height="12.78" fill="#f1ecf5"/>
<rect x="502.81" y="111.26" width="17.29" height="12.78" fill="#ede8f3"/>
<rect x="519.39" y="111.26" width="17.29" height="12.78" fill="#f4f1f7"/>
<rect x="535.98" y="111.26" width="17.29" height="12.78" fill="#eee9f3"/>
<rect x="552.57" y="111.26" width="17.29" height="12.78" fill="#efebf4"/>
<rect x="569.15" y="111.26" width="17.29" height="12.78" fill="#eae5f1"/>
<rect x="585.74" y="111.26" width="17.29" height="12.78" fill="#ede8f3"/>
<rect x="602.33" y="111.26" width="17.29" height="12.78" fill="#efebf4"/>
<rect x="618.91" y="111.26" width="17.29" height="12.78" fill="#efebf4"/>
<rect x="386.70" y="123.35" width="17.29" height="12.78" fill="#f7f4f9"/>
<rect x="403.29" y="123.35" width="17.29" height="12.78" fill="#f7f4f9"/>
<rect x="419.87" y="123.35" width="17.29" height="12.78" fill="#f6f2f8"/>
<rect x="436.46" y="123.35" width="17.29" height="12.78" fill="#f3eff7"/>
<rect x="453.05" y="123.35" width="17.29" height="12.78" fill="#f1ecf5"/>
<rect x="469.63" y="123.35" width="17.29" height="12.78" fill="#eee9f3"/>
<rect x="486.22" y="123.35" width="17.29" height="12.78" fill="#e6dfee"/>
<rect x="502.81" y="123.35" width="17.29" height="12.78" fill="#ebe6f2"/>
<rect x="519.39" y="123.35" width="17.29" height="12.78" fill="#efebf4"/>
<rect x="535.98" y="123.35" width="17.29" height="12.78" fill="#f4f1f7"/>
<rect x="552.57" y="123.35" width="17.29" height="12.78" fill="#e9e3f0"/>
<rect x="569.15" y="123.35" width="17.29" height="12.78" fill="#f1ecf5"/>
<rect x="585.74" y="123.35" width="17.29" height="12.78" fill="#f1ecf5"/>
<rect x="602.33" y="123.35" width="17.29" height="12.78" fill="#f3eff7"/>
<rect x="618.91" y="123.35" width="17.29" height="12.78" fill="#f2eef6"/>
<rect x="386.70" y="135.44" width="17.29" height="12.78" fill="#f7f4f9"/>
<rect x="403.29" y="135.44" width="17.29" height="12.78" fill="#f7f4f9"/>
<rect x="419.87" y="135.44" width="17.29" height="12.78" fill="#f6f2f8"/>
<rect x="436.46" y="135.44" width="17.29" height="12.78" fill="#e8e2ef"/>
<rect x="453.05" y="135.44" width="17.29" height="12.78" fill="#ede8f3"/>
<rect x="469.63" y="135.44" width="17.29" height="12.78" fill="#f6f2f8"/>
<rect x="486.22" y="135.44" width="17.29" height="12.78" fill="#e8e2ef"/>
<rect x="502.81" y="135.44" width="17.29" height="12.78" fill="#ede8f3"/>
<rect x="519.39" y="135.44" width="17.29" height="12.78" fill="#f1ecf5"/>
<rect x="535.98" y="135.44" width="17.29" height="12.78" fill="#eee9f3"/>
<rect x="552.57" y="135.44" width="17.29" height="12.78" fill="#eee9f3"/>
<rect x="569.15" y="135.44" width="17.29" height="12.78" fill="#f2eef6"/>
<rect x="585.74" y="135.44" width="17.29" height="12.78" fill="#f4f1f7"/>
<rect x="602.33" y="135.44" width="17.29" height="12.78" fill="#f3eff7"/>
<rect x="618.91" y="135.44" width="17.29" height="12.78" fill="#f6f2f8"/>
<rect x="386.70" y="147.52" width="17.29" height="12.78" fill="#f7f4f9"/>
<rect x="403.29" y="147.52" width="17.29" height="12.78" fill="#efebf4"/>
<rect x="419.87" y="147.52" width="17.29" height="12.78" fill="#efebf4"/>
<rect x="436.46" y="147.52" width="17.29" height="12.78" fill="#efebf4"/>
<rect x="453.05" y="147.52" width="17.29" height="12.78" fill="#efebf4"/>
<rect x="469.63" y="147.52" width="17.29" height="12.78" fill="#eee9f3"/>
<rect x="486.22" y="147.52" width="17.29" height="12.78" fill="#f2eef6"/>
<rect x="502.81" y="147.52" width="17.29" height="12.78" fill="#f2eef6"/>
<rect x="519.39" y="147.52" width="17.29" height="12.78" fill="#eee9f3"/>
<rect x="535.98" y="147.52" width="17.29" height="12.78" fill="#eee9f3"/>
<rect x="552.57" y="147.52" width="17.29" height="12.78" fill="#f1ecf5"/>
<rect x="569.15" y="147.52" width="17.29" height="12.78" fill="#f1ecf5"/>
<rect x="585.74" y="147.52" width="17.29" height="12.78" fill="#eee9f3"/>
<rect x="602.33" y="147.52" width="17.29" height="12.78" fill="#e8e2ef"/>
<rect x="618.91" y="147.52" width="17.29" height="12.78" fill="#e8e2ef"/>
<rect x="386.70" y="159.60" width="17.29" height="12.78" fill="#f7f4f9"/>
<rect x="403.29" y="159.60" width="17.29" height="12.78" fill="#f7f4f9"/>
<rect x="419.87" y="159.60" width="17.29" height="12.78" fill="#ede8f3"/>
<rect x="436.46" y="159.60" width="17.29" height="12.78" fill="#f6f2f8"/>
<rect x="453.05" y="159.60" width="17.29" height="12.78" fill="#f4f1f7"/>
<rect x="469.63" y="159.60" width="17.29" height="12.78" fill="#e6dfee"/>
<rect x="486.22" y="159.60" width="17.29" height="12.78" fill="#efebf4"/>
<rect x="502.81" y="159.60" width="17.29" height="12.78" fill="#eee9f3"/>
<rect x="519.39" y="159.60" width="17.29" height="12.78" fill="#efebf4"/>
<rect x="535.98" y="159.60" width="17.29" height="12.78" fill="#efebf4"/>
<rect x="552.57" y="159.60" width="17.29" height="12.78" fill="#f6f2f8"/>
<rect x="569.15" y="159.60" width="17.29" height="12.78" fill="#eae5f1"/>
<rect x="585.74" y="159.60" width="17.29" height="12.78" fill="#f1ecf5"/>
<rect x="602.33" y="159.60" width="17.29" height="12.78" fill="#f1ecf5"/>
<rect x="618.91" y="159.60" width="17.29" height="12.78" fill="#f1ecf5"/>
<rect x="386.70" y="171.69" width="17.29" height="12.78" fill="#f7f4f9"/>
<rect x="403.29" y="171.69" width="17.29" height="12.78" fill="#f7f4f9"/>
<rect x="419.87" y="171.69" width="17.29" height="12.78" fill="#f7f4f9"/>
<rect x="436.46" y="171.69" width="17.29" height="12.78" fill="#eee9f3"/>
<rect x="453.05" y="171.69" width="17.29" height="12.78" fill="#f6f2f8"/>
<rect x="469.63" y="171.69" width="17.29" height="12.78" fill="#eae5f1"/>
<rect x="486.22" y="171.69" width="17.29" height="12.78" fill="#e9e3f0"/>
<rect x="502.81" y="171.69" width="17.29" height="12.78" fill="#f6f2f8"/>
<rect x="519.39" y="171.69" width="17.29" height="12.78" fill="#e9e3f0"/>
<rect x="535.98" y="171.69" width="17.29" height="12.78" fill="#efebf4"/>
<rect x="552.57" y="171.69" width="17.29" height="12.78" fill="#ebe6f2"/>
<rect x="569.15" y="171.69" width="17.29" height="12.78" fill="#efebf4"/>
<rect x="585.74" y="171.69" width="17.29" height="12.78" fill="#f4f1f7"/>
<rect x="602.33" y="171.69" width="17.29" height="12.78" fill="#f4f1f7"/>
<rect x="618.91" y="171.69" width="17.29" height="12.78" fill="#f3eff7"/>
<rect x="386.70" y="183.77" width="17.29" height="12.78" fill="#f7f4f9"/>
<rect x="403.29" y="183.77" width="17.29" height="12.78" fill="#ebe6f2"/>
<rect x="419.87" y="183.77" width="17.29" height="12.78" fill="#eee9f3"/>
<rect x="436.46" y="183.77" width="17.29" height="12.78" fill="#f7f4f9"/>
<rect x="453.05" y="183.77" width="17.29" height="12.78" fill="#ebe6f2"/>
<rect x="469.63" y="183.77" width="17.29" height="12.78" fill="#f6f2f8"/>
<rect x="486.22" y="183.77" width="17.29" height="12.78" fill="#f6f2f8"/>
<rect x="502.81" y="183.77" width="17.29" height="12.78" fill="#f6f2f8"/>
<rect x="519.39" y="183.77" width="17.29" height="12.78" fill="#f6f2f8"/>
<rect x="535.98" y="183.77" width="17.29" height="12.78" fill="#efebf4"/>
<rect x="552.57" y="183.77" width="17.29" height="12.78" fill="#f6f2f8"/>
<rect x="569.15" y="183.77" width="17.29" height="12.78" fill="#eee9f3"/>
<rect x="585.74" y="183.77" width="17.29" height="12.78" fill="#ede8f3"/>
<rect x="602.33" y="183.77" width="17.29" height="12.78" fill="#f2eef6"/>
<rect x="618.91" y="183.77" width="17.29" height="12.78" fill="#f6f2f8"/>
<rect x="386.70" y="195.86" width="17.29" height="12.78" fill="#f7f4f9"/>
<rect x="403.29" y="195.86" width="17.29" height="12.78" fill="#eee9f3"/>
<rect x="419.87" y="195.86" width="17.29" height="12.78" fill="#f3eff7"/>
<rect x="436.46" y="195.86" width="17.29" height="12.78" fill="#f7f4f9"/>
<rect x="453.05" y="195.86" width="17.29" height="12.78" fill="#eae5f1"/>
<rect x="469.63" y="195.86" width="17.29" height="12.78" fill="#f3eff7"/>
<rect x="486.22" y="195.86" width="17.29" height="12.78" fill="#f6f2f8"/>
<rect x="502.81" y="195.86" width="17.29" height="12.78" fill="#f6f2f8"/>
<rect x="519.39" y="195.86" width="17.29" height="12.78" fill="#f3eff7"/>
<rect x="535.98" y="195.86" width="17.29" height="12.78" fill="#f6f2f8"/>
<rect x="552.57" y="195.86" width="17.29" height="12.78" fill="#f6f2f8"/>
<rect x="569.15" y="195.86" width="17.29" height="12.78" fill="#f6f2f8"/>
<rect x="585.74" y="195.86" width="17.29" height="12.78" fill="#f6f2f8"/>
<rect x="602.33" y="195.86" width="17.29" height="12.78" fill="#f6f2f8"/>
<rect x="618.91" y="195.86" width="17.29" height="12.78" fill="#f6f2f8"/>
<rect x="386.70" y="207.94" width="17.29" height="12.78" fill="#f7f4f9"/>
<rect x="403.29" y="207.94" width="17.29" height="12.78" fill="#f7f4f9"/>
<rect x="419.87" y="207.94" width="17.29" height="12.78" fill="#f7f4f9"/>
<rect x="436.46" y="207.94" width="17.29" height="12.78" fill="#efebf4"/>
<rect x="453.05" y="207.94" width="17.29" height="12.78" fill="#f6f2f8"/>
<rect x="469.63" y="207.94" width="17.29" height="12.78" fill="#f6f2f8"/>
<rect x="486.22" y="207.94" width="17.29" height="12.78" fill="#f6f2f8"/>
<rect x="502.81" y="207.94" width="17.29" height="12.78" fill="#f6f2f8"/>
<rect x="519.39" y="207.94" width="17.29" height="12.78" fill="#f3eff7"/>
<rect x="535.98" y="207.94" width="17.29" height="12.78" fill="#f6f2f8"/>
<rect x="552.57" y="207.94" width="17.29" height="12.78" fill="#f6f2f8"/>
<rect x="569.15" y="207.94" width="17.29" height="12.78" fill="#f6f2f8"/>
<rect x="585.74" y="207.94" width="17.29" height="12.78" fill="#f6f2f8"/>
<rect x="602.33" y="207.94" width="17.29" height="12.78" fill="#f6f2f8"/>
<rect x="618.91" y="207.94" width="17.29" height="12.78" fill="#f6f2f8"/>
<rect x="386.70" y="220.03" width="17.29" height="12.78" fill="#f7f4f9"/>
<rect x="403.29" y="220.03" width="17.29" height="12.78" fill="#f7f4f9"/>
<rect x="419.87" y="220.03" width="17.29" height="12.78" fill="#f7f4f9"/>
<rect x="436.46" y="220.03" width="17.29" height="12.78" fill="#f7f4f9"/>
<rect x="453.05" y="220.03" width="17.29" height="12.78" fill="#f7f4f9"/>
<rect x="469.63" y="220.03" width="17.29" height="12.78" fill="#f6f2f8"/>
<rect x="486.22" y="220.03" width="17.29" height="12.78" fill="#f6f2f8"/>
<rect x="502.81" y="220.03" width="17.29" height="12.78" fill="#f6f2f8"/>
<rect x="519.39" y="220.03" width="17.29" height="12.78" fill="#f6f2f8"/>
<rect x="535.98" y="220.03" width="17.29" height="12.78" fill="#f6f2f8"/>
<rect x="552.57" y="220.03" width="17.29" height="12.78" fill="#f6f2f8"/>
<rect x="569.15" y="220.03" width="17.29" height="12.78" fill="#f6f2f8"/>
<rect x="585.74" y="220.03" width="17.29" height="12.78" fill="#f6f2f8"/>
<rect x="602.33" y="220.03" width="17.29" height="12.78" fill="#f6f2f8"/>
<rect x="618.91" y="220.03" width="17.29" height="12.78" fill="#f6f2f8"/>
<rect x="386.70" y="232.11" width="17.29" height="12.78" fill="#f7f4f9"/>
<rect x="403.29" y="232.11" width="17.29" height="12.78" fill="#f7f4f9"/>
<rect x="419.87" y="232.11" width="17.29" height="12.78" fill="#f7f4f9"/>
<rect x="436.46" y="232.11" width="17.29" height="12.78" fill="#f7f4f9"/>
<rect x="453.05" y="232.11" width="17.29" height="12.78" fill="#f7f4f9"/>
<rect x="469.63" y="232.11" width="17.29" height="12.78" fill="#f6f2f8"/>
<rect x="486.22" y="232.11" width="17.29" height="12.78" fill="#f6f2f8"/>
<rect x="502.81" y="232.11" width="17.29" height="12.78" fill="#f6f2f8"/>
<rect x="519.39" y="232.11" width="17.29" height="12.78" fill="#f6f2f8"/>
<rect x="535.98" y="232.11" width="17.29" height="12.78" fill="#f6f2f8"/>
<rect x="552.57" y="232.11" width="17.29" height="12.78" fill="#f6f2f8"/>
<rect x="569.15" y="232.11" width="17.29" height="12.78" fill="#f6f2f8"/>
<rect x="585.74" y="232.11" width="17.29" height="12.78" fill="#f6f2f8"/>
<rect x="602.33" y="232.11" width="17.29" height="12.78" fill="#f6f2f8"/>
<rect x="618.91" y="232.11" width="17.29" height="12.78" fill="#f6f2f8"/>
</g>
<g clip-path="url(#cr)">
<line x1="387.0" x2="635.8" y1="106.7" y2="106.7" stroke="#00ee00" stroke-opacity="0.78" stroke-width="1.4" stroke-dasharray="3.05 1.34"/>
<line x1="387.0" x2="635.8" y1="58.3" y2="58.3" stroke="#0000ff" stroke-opacity="0.85" stroke-width="1.25" stroke-dasharray="0.9 0.92"/>
<rect x="401.44" y="187.55" width="4.3" height="4.3" fill="#00ee00"/>
<rect x="418.02" y="119.55" width="4.3" height="4.3" fill="#00ee00"/>
<rect x="434.61" y="101.85" width="4.3" height="4.3" fill="#00ee00"/>
<rect x="451.20" y="95.65" width="4.3" height="4.3" fill="#00ee00"/>
<rect x="467.78" y="88.50" width="4.3" height="4.3" fill="#00ee00"/>
<rect x="484.37" y="74.95" width="4.3" height="4.3" fill="#00ee00"/>
<rect x="500.96" y="64.85" width="4.3" height="4.3" fill="#00ee00"/>
<circle cx="386.50" cy="46.00" r="1.38" fill="#0000ff"/>
<circle cx="403.59" cy="62.80" r="1.38" fill="#0000ff"/>
<circle cx="420.17" cy="60.90" r="1.38" fill="#0000ff"/>
<circle cx="436.76" cy="63.20" r="1.38" fill="#0000ff"/>
<circle cx="453.35" cy="67.40" r="1.38" fill="#0000ff"/>
<circle cx="469.93" cy="65.40" r="1.38" fill="#0000ff"/>
<circle cx="486.52" cy="66.10" r="1.38" fill="#0000ff"/>
<circle cx="503.11" cy="58.30" r="1.38" fill="#0000ff"/>
<circle cx="519.69" cy="64.70" r="1.38" fill="#0000ff"/>
<circle cx="536.28" cy="63.40" r="1.38" fill="#0000ff"/>
<circle cx="552.87" cy="57.90" r="1.38" fill="#0000ff"/>
<circle cx="569.45" cy="55.40" r="1.38" fill="#0000ff"/>
<circle cx="586.04" cy="52.10" r="1.38" fill="#0000ff"/>
<circle cx="602.63" cy="46.30" r="1.38" fill="#0000ff"/>
<circle cx="619.21" cy="44.40" r="1.38" fill="#0000ff"/>
</g>
<rect x="386.7" y="2.5" width="248.80" height="241.70" fill="none" stroke="#2a2a2a" stroke-width="1.1"/>
<text x="394.99" y="252.9" font-size="6.25" text-anchor="middle" fill="#141414" stroke="#141414" stroke-width="0.08">0</text>
<text x="411.58" y="252.9" font-size="6.25" text-anchor="middle" fill="#141414" stroke="#141414" stroke-width="0.08">1</text>
<text x="428.17" y="252.9" font-size="6.25" text-anchor="middle" fill="#141414" stroke="#141414" stroke-width="0.08">2</text>
<text x="444.75" y="252.9" font-size="6.25" text-anchor="middle" fill="#141414" stroke="#141414" stroke-width="0.08">3</text>
<text x="461.34" y="252.9" font-size="6.25" text-anchor="middle" fill="#141414" stroke="#141414" stroke-width="0.08">4</text>
<text x="477.93" y="252.9" font-size="6.25" text-anchor="middle" fill="#141414" stroke="#141414" stroke-width="0.08">5</text>
<text x="494.51" y="252.9" font-size="6.25" text-anchor="middle" fill="#141414" stroke="#141414" stroke-width="0.08">6</text>
<text x="511.1" y="252.9" font-size="6.25" text-anchor="middle" fill="#141414" stroke="#141414" stroke-width="0.08">7</text>
<text x="527.69" y="252.9" font-size="6.25" text-anchor="middle" fill="#141414" stroke="#141414" stroke-width="0.08">8</text>
<text x="544.27" y="252.9" font-size="6.25" text-anchor="middle" fill="#141414" stroke="#141414" stroke-width="0.08">9</text>
<text x="560.86" y="252.9" font-size="6.25" text-anchor="middle" fill="#141414" stroke="#141414" stroke-width="0.08">10</text>
<text x="577.45" y="252.9" font-size="6.25" text-anchor="middle" fill="#141414" stroke="#141414" stroke-width="0.08">11</text>
<text x="594.03" y="252.9" font-size="6.25" text-anchor="middle" fill="#141414" stroke="#141414" stroke-width="0.08">12</text>
<text x="610.62" y="252.9" font-size="6.25" text-anchor="middle" fill="#141414" stroke="#141414" stroke-width="0.08">13</text>
<text x="627.21" y="252.9" font-size="6.25" text-anchor="middle" fill="#141414" stroke="#141414" stroke-width="0.08">14</text>
<line x1="384.5" x2="386.7" y1="244.20" y2="244.20" stroke="#222" stroke-width="0.9"/>
<text x="382.6" y="246.8" font-size="6.25" text-anchor="end" fill="#141414" stroke="#141414" stroke-width="0.08">0.0</text>
<line x1="384.5" x2="386.7" y1="191.75" y2="191.75" stroke="#222" stroke-width="0.9"/>
<text x="382.6" y="194.35" font-size="6.25" text-anchor="end" fill="#141414" stroke="#141414" stroke-width="0.08">0.2</text>
<line x1="384.5" x2="386.7" y1="139.30" y2="139.30" stroke="#222" stroke-width="0.9"/>
<text x="382.6" y="141.9" font-size="6.25" text-anchor="end" fill="#141414" stroke="#141414" stroke-width="0.08">0.4</text>
<line x1="384.5" x2="386.7" y1="86.85" y2="86.85" stroke="#222" stroke-width="0.9"/>
<text x="382.6" y="89.45" font-size="6.25" text-anchor="end" fill="#141414" stroke="#141414" stroke-width="0.08">0.6</text>
<line x1="384.5" x2="386.7" y1="34.40" y2="34.40" stroke="#222" stroke-width="0.9"/>
<text x="382.6" y="37.0" font-size="6.25" text-anchor="end" fill="#141414" stroke="#141414" stroke-width="0.08">0.8</text>
<text x="510.0" y="263.4" font-size="8.3" text-anchor="middle" fill="#141414" stroke="#141414" stroke-width="0.3" textLength="18.3" lengthAdjust="spacingAndGlyphs">Time</text>
<text x="364.4" y="113.0" font-size="8.3" text-anchor="middle" fill="#141414" stroke="#141414" stroke-width="0.3" transform="rotate(-90 364.4 113.0)" textLength="36.0" lengthAdjust="spacingAndGlyphs">Centrality</text>
<linearGradient id="gr" x1="0" y1="0" x2="0" y2="1"><stop offset="0.0000" stop-color="#67001f"/><stop offset="0.0312" stop-color="#730028"/><stop offset="0.0625" stop-color="#800031"/><stop offset="0.0938" stop-color="#8c003a"/><stop offset="0.1250" stop-color="#980043"/><stop offset="0.1562" stop-color="#a60448"/><stop offset="0.1875" stop-color="#b3094c"/><stop offset="0.2188" stop-color="#c00e51"/><stop offset="0.2500" stop-color="#ce1256"/><stop offset="0.2812" stop-color="#d41863"/><stop offset="0.3125" stop-color="#da1e70"/><stop offset="0.3438" stop-color="#e1237d"/><stop offset="0.3750" stop-color="#e7298a"/><stop offset="0.4062" stop-color="#e53894"/><stop offset="0.4375" stop-color="#e3479d"/><stop offset="0.4688" stop-color="#e156a6"/><stop offset="0.5000" stop-color="#df65b0"/><stop offset="0.5312" stop-color="#da71b6"/><stop offset="0.5625" stop-color="#d47cbc"/><stop offset="0.5938" stop-color="#ce88c1"/><stop offset="0.6250" stop-color="#c994c7"/><stop offset="0.6562" stop-color="#cc9dcc"/><stop offset="0.6875" stop-color="#cea6d0"/><stop offset="0.7188" stop-color="#d1b0d5"/><stop offset="0.7500" stop-color="#d4b9da"/><stop offset="0.7812" stop-color="#d9c3df"/><stop offset="0.8125" stop-color="#decde4"/><stop offset="0.8438" stop-color="#e2d7ea"/><stop offset="0.8750" stop-color="#e7e1ef"/><stop offset="0.9062" stop-color="#ebe6f2"/><stop offset="0.9375" stop-color="#efeaf4"/><stop offset="0.9688" stop-color="#f3eff6"/><stop offset="1.0000" stop-color="#f7f4f9"/></linearGradient>
<rect x="651.4" y="2.5" width="11.90" height="241.70" fill="url(#gr)" stroke="#222" stroke-width="1.05"/>
<line x1="663.3" x2="665.5" y1="244.20" y2="244.20" stroke="#222" stroke-width="0.9"/>
<text x="667.0" y="246.9" font-size="6.25" text-anchor="start" fill="#141414" stroke="#141414" stroke-width="0.08">0</text>
<line x1="663.3" x2="665.5" y1="192.70" y2="192.70" stroke="#222" stroke-width="0.9"/>
<text x="667.0" y="195.4" font-size="6.25" text-anchor="start" fill="#141414" stroke="#141414" stroke-width="0.08">10</text>
<line x1="663.3" x2="665.5" y1="141.20" y2="141.20" stroke="#222" stroke-width="0.9"/>
<text x="667.0" y="143.9" font-size="6.25" text-anchor="start" fill="#141414" stroke="#141414" stroke-width="0.08">20</text>
<line x1="663.3" x2="665.5" y1="89.70" y2="89.70" stroke="#222" stroke-width="0.9"/>
<text x="667.0" y="92.4" font-size="6.25" text-anchor="start" fill="#141414" stroke="#141414" stroke-width="0.08">30</text>
<line x1="663.3" x2="665.5" y1="38.20" y2="38.20" stroke="#222" stroke-width="0.9"/>
<text x="667.0" y="40.9" font-size="6.25" text-anchor="start" fill="#141414" stroke="#141414" stroke-width="0.08">40</text>
<text x="684.6" y="117.0" font-size="8.3" text-anchor="middle" fill="#141414" stroke="#141414" stroke-width="0.3" transform="rotate(-90 684.6 117.0)" textLength="64.2" lengthAdjust="spacingAndGlyphs">Number of nodes</text>
</svg>
</body></html>
